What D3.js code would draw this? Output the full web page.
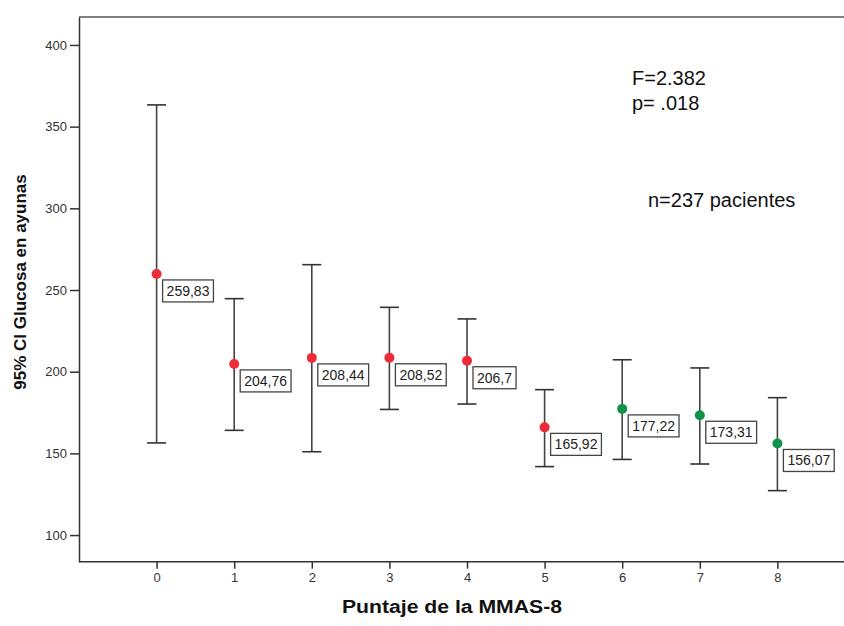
<!DOCTYPE html>
<html>
<head>
<meta charset="utf-8">
<script src="https://cdn.jsdelivr.net/npm/d3@7"></script>
<style>
  html, body { margin: 0; padding: 0; background: #fff; overflow: hidden; }
  svg { display: block; overflow: hidden; font-family: Arial, "Liberation Sans", sans-serif; }
</style>
</head>
<body>
<svg id="chart" width="844" height="626"></svg>
<script>
// ---- data ----
const categories = [0, 1, 2, 3, 4, 5, 6, 7, 8];
const means  = [259.83, 204.76, 208.44, 208.52, 206.7, 165.92, 177.22, 173.31, 156.07];
const lower  = [156.4, 164.1, 151.0, 176.9, 180.2, 141.9, 146.3, 143.5, 127.2];
const upper  = [363.3, 244.7, 265.5, 239.4, 232.3, 189.0, 207.3, 202.3, 184.1];
const groups = ["baja", "baja", "baja", "baja", "baja", "baja", "alta", "alta", "alta"];
const yTicks = [100, 150, 200, 250, 300, 350, 400];
const annotations = ["F=2.382", "p= .018", "n=237 pacientes"];

const svg = d3.select("#chart");
const W = 844;
const plotLeft = 79, plotTop = 17, plotBottom = 561.7;
const x = d3.scaleLinear().domain([-1, 9]).range([plotLeft, plotLeft + 776]);
const y = d3.scaleLinear().domain([83.7, 417.1]).range([plotBottom, plotTop]);
const color = d3.scaleOrdinal().domain(["baja", "alta"]).range(["#ee2c38", "#10924a"]);

// frame top line (right side runs off the picture)
svg.append("line")
  .attr("x1", plotLeft).attr("x2", W)
  .attr("y1", plotTop).attr("y2", plotTop)
  .attr("stroke", "#555").attr("stroke-width", 1.6);

// y axis
const yAxis = svg.append("g").attr("transform", `translate(${plotLeft},0)`)
  .call(d3.axisLeft(y).tickValues(yTicks).tickSize(9).tickPadding(3).tickSizeOuter(0));
yAxis.select(".domain").attr("stroke", "#333").attr("stroke-width", 1.5);
yAxis.selectAll(".tick line").attr("stroke", "#333").attr("stroke-width", 1.5);
yAxis.selectAll(".tick text").attr("font-size", 13).attr("fill", "#333")
  .attr("font-family", "Arial, 'Liberation Sans', sans-serif");

// x axis (clipped at the picture edge)
const xClip = d3.scaleLinear().domain(x.domain()).range(x.range()).clamp(false);
const xAxis = svg.append("g").attr("transform", `translate(0,${plotBottom})`)
  .call(d3.axisBottom(xClip).tickValues(categories).tickFormat(d3.format("d")).tickSize(7).tickPadding(4).tickSizeOuter(0));
xAxis.select(".domain").remove();
xAxis.append("line")
  .attr("x1", plotLeft).attr("x2", W).attr("y1", 0).attr("y2", 0)
  .attr("stroke", "#333").attr("stroke-width", 1.5);
xAxis.selectAll(".tick line").attr("stroke", "#333").attr("stroke-width", 1.5);
xAxis.selectAll(".tick text").attr("font-size", 13).attr("fill", "#333")
  .attr("font-family", "Arial, 'Liberation Sans', sans-serif");

// axis titles
svg.append("text")
  .attr("x", 452).attr("y", 613)
  .attr("text-anchor", "middle")
  .attr("font-weight", "bold").attr("font-size", 18).attr("fill", "#111")
  .attr("textLength", 220).attr("lengthAdjust", "spacingAndGlyphs")
  .text("Puntaje de la MMAS-8");
svg.append("text")
  .attr("transform", "translate(26,282) rotate(-90)")
  .attr("text-anchor", "middle")
  .attr("font-weight", "bold").attr("font-size", 17).attr("fill", "#111")
  .text("95% CI Glucosa en ayunas");

// error bars
const data = categories.map((c, i) => ({ c, m: means[i], lo: lower[i], hi: upper[i], g: groups[i] }));
const capHalf = 9.5;
const bars = svg.append("g").selectAll("g").data(data).join("g");
bars.append("line")
  .attr("x1", d => x(d.c)).attr("x2", d => x(d.c))
  .attr("y1", d => y(d.lo)).attr("y2", d => y(d.hi))
  .attr("stroke", "#444").attr("stroke-width", 1.6);
bars.append("line")
  .attr("x1", d => x(d.c) - capHalf).attr("x2", d => x(d.c) + capHalf)
  .attr("y1", d => y(d.hi)).attr("y2", d => y(d.hi))
  .attr("stroke", "#333").attr("stroke-width", 1.6);
bars.append("line")
  .attr("x1", d => x(d.c) - capHalf).attr("x2", d => x(d.c) + capHalf)
  .attr("y1", d => y(d.lo)).attr("y2", d => y(d.lo))
  .attr("stroke", "#333").attr("stroke-width", 1.6);
bars.append("circle")
  .attr("cx", d => x(d.c)).attr("cy", d => y(d.m))
  .attr("r", 5).attr("fill", d => color(d.g));

// value labels
const fmt = v => String(v).replace(".", ",");
const labels = svg.append("g").selectAll("g").data(data).join("g")
  .attr("transform", d => `translate(${x(d.c) + 6},${y(d.m) + 6})`);
labels.each(function (d) {
  const g = d3.select(this);
  const t = g.append("text")
    .attr("x", 4).attr("y", 16)
    .attr("font-size", 14).attr("fill", "#222")
    .text(fmt(d.m));
  const w = t.node().getComputedTextLength();
  g.insert("rect", "text")
    .attr("x", 0).attr("y", 0)
    .attr("width", w + 8).attr("height", 22)
    .attr("fill", "#fff").attr("stroke", "#444").attr("stroke-width", 1.3);
});

// annotations
svg.append("text").attr("x", 632).attr("y", 85).attr("font-size", 20).attr("fill", "#111").text(annotations[0]);
svg.append("text").attr("x", 632).attr("y", 110).attr("font-size", 20).attr("fill", "#111").text(annotations[1]);
svg.append("text").attr("x", 648).attr("y", 207).attr("font-size", 20).attr("fill", "#111").text(annotations[2]);
</script>
</body>
</html>
